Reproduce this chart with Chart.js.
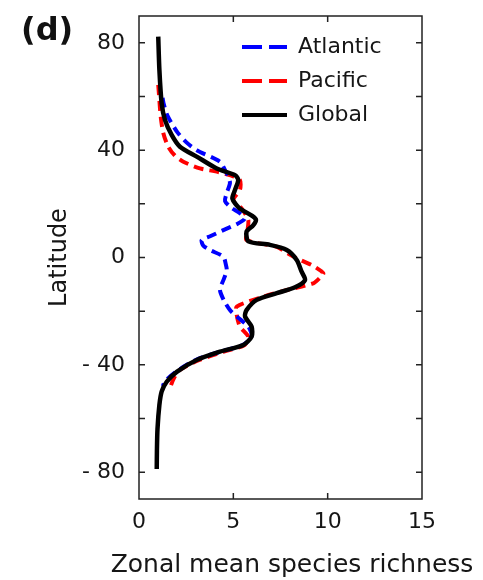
<!DOCTYPE html>
<html>
<head>
<meta charset="utf-8">
<title>Zonal mean species richness</title>
<script src="https://cdn.jsdelivr.net/npm/chart.js@4.4.1/dist/chart.umd.min.js"></script>
<style>
  body { margin: 0; background: #fff; }
  #wrap { width: 483px; height: 580px; position: relative; }
</style>
</head>
<body>
<div id="wrap"><canvas id="richnessChart"></canvas></div>
<script>
// values: latitude (deg) vs zonal mean species richness
const atlanticLat  = [59.5, 57.5, 53, 47, 43, 40, 35.7, 32, 30, 27.7, 24, 21, 18.5, 16.5, 14.5, 12.5, 10.2, 8, 6.5, 4.5, 2.8, 0.3, -2.5, -4.7, -8, -12, -16, -19.6, -22, -25.8, -29.5, -32.6, -35.1, -38.2, -42.6, -46, -48];
const atlanticRich = [1.25, 1.3, 1.5, 2.0, 2.5, 3.06, 4.29, 4.6, 4.75, 4.82, 4.65, 4.56, 4.9, 5.35, 5.6, 5.2, 4.47, 3.8, 3.32, 3.4, 3.76, 4.47, 4.6, 4.65, 4.5, 4.29, 4.5, 4.82, 5.18, 5.8, 5.97, 5.5, 4.3, 3.0, 1.95, 1.4, 1.25];

const pacificLat  = [64.3, 58.7, 52.5, 46.3, 41.3, 38, 35.7, 33.2, 32, 30.5, 28.9, 25.2, 21.4, 18.3, 14, 10, 6.5, 4.0, 1.5, -0.3, -3, -5.9, -7.5, -9.6, -12, -14.6, -18.3, -21.4, -25.8, -29.5, -32.6, -35.1, -38.2, -41.9, -45, -48.6];
const pacificRich = [1.02, 1.08, 1.15, 1.29, 1.55, 1.9, 2.35, 3.23, 4.12, 4.9, 5.35, 5.35, 5.0, 5.44, 5.79, 5.75, 5.7, 7.3, 7.9, 8.36, 9.2, 9.77, 9.6, 9.24, 7.9, 6.59, 5.18, 5.18, 5.35, 5.79, 5.6, 4.5, 3.2, 2.17, 1.85, 1.64];

const globalLat  = [82.3, 70, 57.5, 51.2, 45.7, 41.3, 37.6, 33.2, 30.7, 28.9, 25.2, 22, 18.5, 15.5, 14, 12, 9.6, 6, 4.7, 2.8, -0.9, -5.3, -8.4, -11.1, -13.3, -15.8, -19.6, -22, -25.8, -29.5, -32.6, -35.1, -38.2, -42.6, -46.3, -50, -55, -64, -72, -78.8];
const globalRich = [1.02, 1.08, 1.2, 1.38, 1.73, 2.17, 3.06, 4.12, 5.09, 5.26, 5.09, 4.95, 5.3, 6.0, 6.2, 6.05, 5.7, 5.8, 6.94, 7.83, 8.36, 8.62, 8.8, 8.27, 7.3, 6.24, 5.7, 5.62, 5.97, 5.97, 5.53, 4.29, 3.06, 2.0, 1.47, 1.2, 1.08, 0.98, 0.95, 0.94];

// axis ticks (labels only every 40 deg)
const latTicks = [-80, -60, -40, -20, 0, 20, 40, 60, 80];
const latLabelled = [-80, -40, 0, 40, 80];
const richTicks = [0, 5, 10, 15];

const seriesNames = ['Atlantic', 'Pacific', 'Global'];
const legendDash = [[20, 7], [20, 7], []];
const xTitle = 'Zonal mean species richness';

const FONT = 'DejaVu Sans';
const TEXT = '#161616';
const TICK_LEN = 6;

Chart.defaults.font.family = FONT;

function toPoints(lat, rich) {
  return lat.map((v, i) => ({ x: rich[i], y: v }));
}

// box around the plot, inward ticks on all four sides, panel letter, x title
const frameTicks = {
  id: 'frameTicks',
  beforeDraw(chart) {
    // put the legend in the upper right of the plot
    const lg = chart.legend;
    lg.left = 230;
    lg.top = 24;
  },
  afterDatasetsDraw(chart) {
    const { ctx, chartArea: a, scales: { x, y } } = chart;
    ctx.save();
    ctx.strokeStyle = '#222';
    ctx.lineWidth = 1.5;
    ctx.strokeRect(a.left, a.top, a.right - a.left, a.bottom - a.top);
    ctx.beginPath();
    y.ticks.forEach(t => {
      const py = y.getPixelForValue(t.value);
      ctx.moveTo(a.left, py); ctx.lineTo(a.left + TICK_LEN, py);
      ctx.moveTo(a.right, py); ctx.lineTo(a.right - TICK_LEN, py);
    });
    x.ticks.forEach(t => {
      if (t.value <= x.min || t.value >= x.max) return;
      const px = x.getPixelForValue(t.value);
      ctx.moveTo(px, a.bottom); ctx.lineTo(px, a.bottom - TICK_LEN);
      ctx.moveTo(px, a.top); ctx.lineTo(px, a.top + TICK_LEN);
    });
    ctx.stroke();

    ctx.fillStyle = '#111';
    ctx.font = 'bold 32px "' + FONT + '"';
    ctx.textBaseline = 'middle';
    ctx.textAlign = 'left';
    ctx.fillText('(d)', 21, 32);

    // axis title is wider than the plot, so it is drawn here unsqueezed
    ctx.fillStyle = TEXT;
    ctx.font = '25px "' + FONT + '"';
    ctx.textAlign = 'center';
    ctx.fillText(xTitle, 292, 565);
    ctx.restore();
  }
};

new Chart(document.getElementById('richnessChart'), {
  type: 'scatter',
  data: {
    datasets: [
      {
        label: seriesNames[0],
        data: toPoints(atlanticLat, atlanticRich),
        borderColor: '#0000ff',
        backgroundColor: '#0000ff',
        borderWidth: 4,
        borderDash: [10, 6],
        order: 2
      },
      {
        label: seriesNames[1],
        data: toPoints(pacificLat, pacificRich),
        borderColor: '#ff0000',
        backgroundColor: '#ff0000',
        borderWidth: 4,
        borderDash: [10, 6],
        order: 3
      },
      {
        label: seriesNames[2],
        data: toPoints(globalLat, globalRich),
        borderColor: '#000000',
        backgroundColor: '#000000',
        borderWidth: 4.5,
        order: 1
      }
    ]
  },
  options: {
    responsive: true,
    maintainAspectRatio: false,
    animation: false,
    showLine: true,
    elements: {
      point: { radius: 0, hoverRadius: 0 },
      line: { tension: 0.25, fill: false }
    },
    layout: { padding: { left: 0, top: 16, right: 61, bottom: 0 } },
    scales: {
      x: {
        type: 'linear',
        min: 0,
        max: 15,
        afterBuildTicks: s => { s.ticks = richTicks.map(v => ({ value: v })); },
        afterFit: s => { s.height = 81; s.paddingLeft = 0; s.paddingRight = 0; },
        grid: { display: false, drawTicks: false },
        border: { display: false },
        ticks: { padding: 10, color: TEXT, font: { size: 22 } },
        title: { display: false }
      },
      y: {
        type: 'linear',
        min: -90,
        max: 90,
        afterBuildTicks: s => { s.ticks = latTicks.map(v => ({ value: v })); },
        afterFit: s => { s.width = 139; s.paddingTop = 0; s.paddingBottom = 0; },
        grid: { display: false, drawTicks: false },
        border: { display: false },
        ticks: {
          padding: 14,
          color: TEXT,
          font: { size: 22 },
          callback: v => {
            if (!latLabelled.includes(v)) return '';
            return v < 0 ? '- ' + Math.abs(v) : String(v);
          }
        },
        title: {
          display: true,
          text: 'Latitude',
          color: TEXT,
          font: { size: 24 },
          padding: { top: 45, bottom: 0 }
        }
      }
    },
    plugins: {
      legend: {
        position: 'chartArea',
        align: 'start',
        labels: {
          usePointStyle: true,
          pointStyleWidth: 45,
          boxHeight: 22,
          padding: 12,
          color: TEXT,
          font: { size: 22 },
          generateLabels: chart => chart.data.datasets.map((ds, i) => ({
            text: ds.label,
            fillStyle: ds.borderColor,
            strokeStyle: ds.borderColor,
            lineWidth: 4,
            lineDash: legendDash[i],
            pointStyle: 'line',
            fontColor: TEXT,
            hidden: false,
            datasetIndex: i
          }))
        }
      },
      tooltip: { enabled: false }
    }
  },
  plugins: [frameTicks]
});
</script>
</body>
</html>
